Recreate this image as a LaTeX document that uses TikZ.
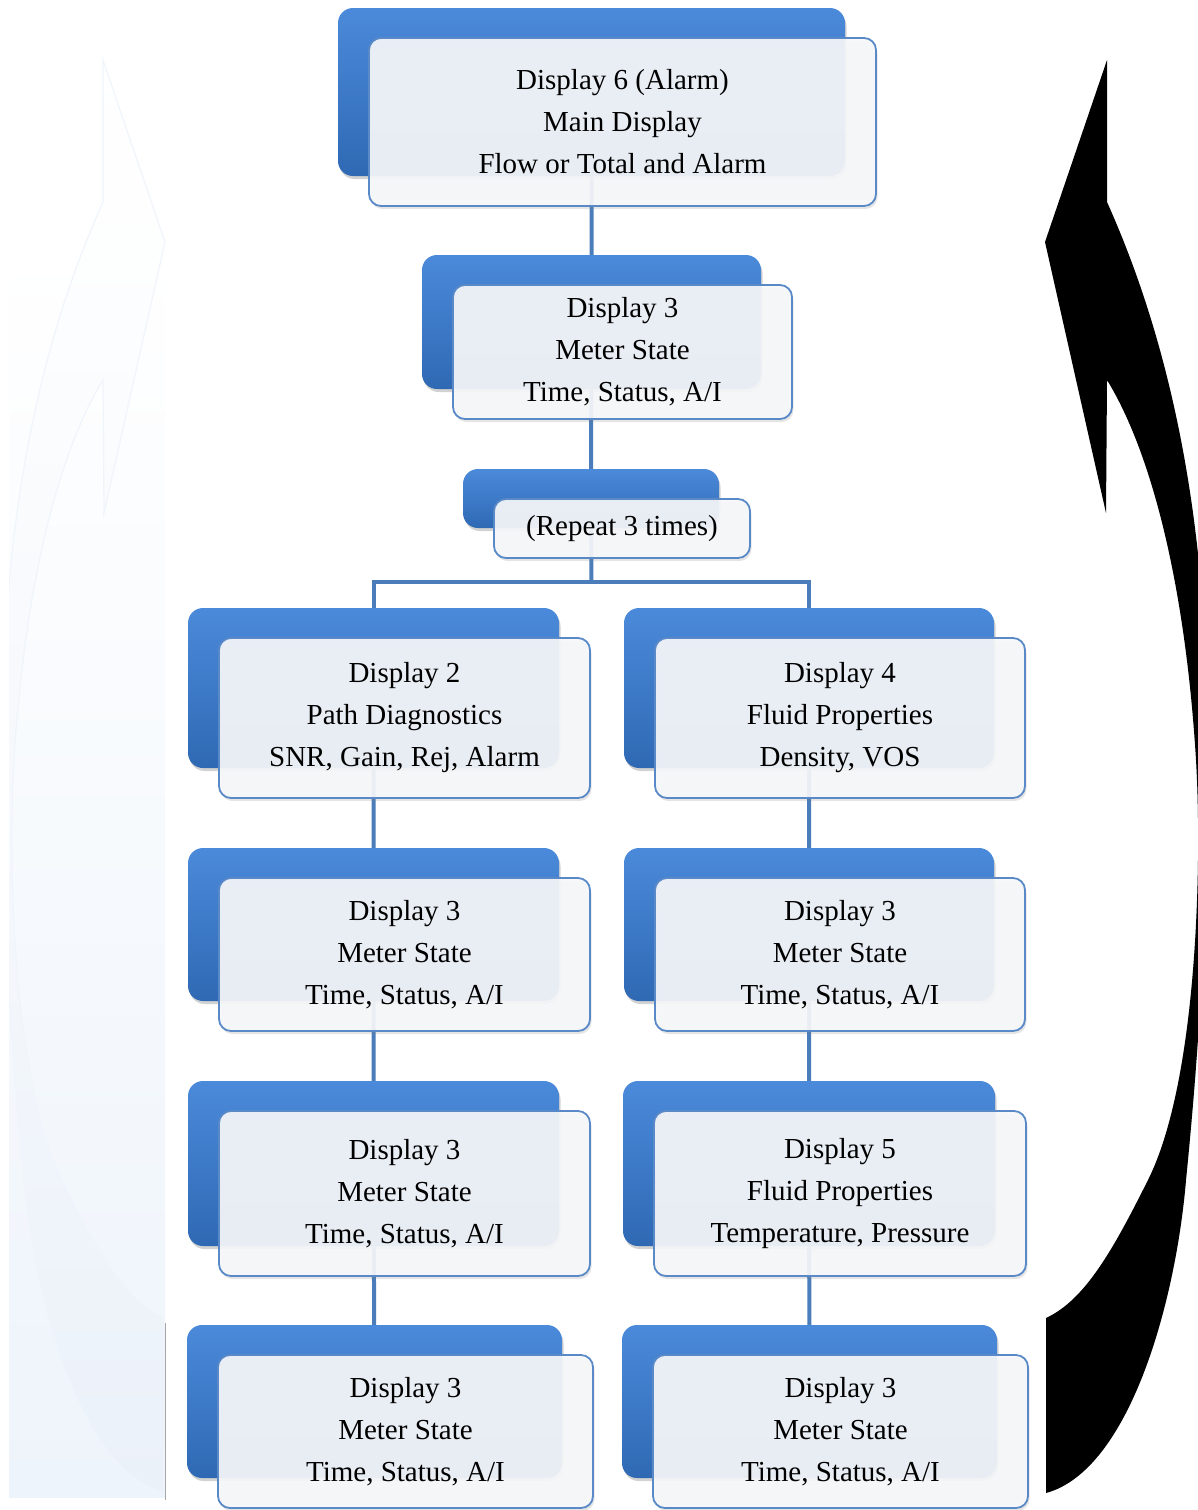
\documentclass[tikz,border=0pt]{standalone}
\usepackage{fontspec}
\setmainfont{Liberation Serif}
\usetikzlibrary{shadows}
\pgfdeclarelayer{bg}
\pgfsetlayers{bg,main}

\definecolor{backtop}{HTML}{4B8ADA}
\definecolor{backmid}{HTML}{3E7ECF}
\definecolor{backbot}{HTML}{2F69B4}
\definecolor{frontfill}{HTML}{F7F8FA}
\definecolor{frontedge}{HTML}{5A89C8}
\definecolor{linkblue}{HTML}{4A7DBA}
\definecolor{faintA}{HTML}{EEF4FB}
\definecolor{faintB}{HTML}{E9EFF8}
\definecolor{faintline}{HTML}{F0F5FC}
\definecolor{glow}{HTML}{D8E5F4}

\tikzset{
  backbox/.style={rounded corners=15pt, top color=backtop, middle color=backmid,
    bottom color=backbot, draw=none, inner sep=0pt,
    drop shadow={shadow xshift=1.5pt, shadow yshift=-3pt, opacity=0.35}},
  frontbox/.style={rounded corners=12pt, fill=frontfill, fill opacity=0.92,
    text opacity=1, draw=frontedge, line width=1.8pt, align=center, inner sep=0pt,
    font=\fontsize{29}{42}\selectfont,
    drop shadow={shadow xshift=1.5pt, shadow yshift=-3pt, opacity=0.2}},
  link/.style={draw=linkblue, line width=4pt},
  arrowshape/.style={insert path={(1107,60) -- (1045,242) -- (1106,513) -- (1107,380)
    .. controls (1150,450) and (1185,580) .. (1196,760)
    .. controls (1202,860) and (1198,1080) .. (1148,1180)
    .. controls (1113,1250) and (1085,1300) .. (1046,1318)
    -- (1046,1493)
    .. controls (1130,1470) and (1176,1300) .. (1186,1180)
    .. controls (1198,1060) and (1210,900) .. (1207,700)
    .. controls (1203,480) and (1160,320) .. (1107,202) -- cycle}},
}

\newcommand\pairbox[6]{%
  \node[backbox, minimum width=#4pt, minimum height=#5pt] (#1b) at (#2-31,#3-30) {};
  \node[frontbox, minimum width=#4pt, minimum height=#5pt] (#1) at (#2,#3) {#6};
}

\begin{document}
\begin{tikzpicture}[x=1pt, y=-1pt]
\useasboundingbox (0,0) rectangle (1198,1510);

% boxes
\pairbox{top}{622.5}{122}{507}{168}{Display 6 (Alarm)\\Main Display\\Flow or Total and Alarm}
\pairbox{dthree}{622.5}{352}{339}{134}{Display 3\\Meter State\\Time, Status, A/I}
\pairbox{rep}{622}{528.5}{256}{59}{(Repeat 3 times)}
\pairbox{Lone}{404.5}{718}{371}{160}{Display 2\\Path Diagnostics\\SNR, Gain, Rej, Alarm}
\pairbox{Rone}{840}{718}{370}{160}{Display 4\\Fluid Properties\\Density, VOS}
\pairbox{Ltwo}{404.5}{954.5}{371}{153}{Display 3\\Meter State\\Time, Status, A/I}
\pairbox{Rtwo}{840}{954.5}{370}{153}{Display 3\\Meter State\\Time, Status, A/I}
\pairbox{Lthree}{404.5}{1193.5}{371}{165}{Display 3\\Meter State\\Time, Status, A/I}
\pairbox{Rthree}{840}{1193.5}{372}{165}{Display 5\\Fluid Properties\\Temperature, Pressure}
\pairbox{Lfour}{405.5}{1431.5}{375}{153}{Display 3\\Meter State\\Time, Status, A/I}
\pairbox{Rfour}{840.5}{1431.5}{375}{153}{Display 3\\Meter State\\Time, Status, A/I}

% right black curved arrow
\begin{scope}
  \clip (0,0) rectangle (1198,1510);
  \begin{scope}
    \clip (1000,760) rectangle (1198,1510);
    \path[arrowshape, fill=glow, xshift=2pt, yshift=-3pt];
  \end{scope}
  \path[arrowshape, fill=black];
\end{scope}

\begin{pgfonlayer}{bg}
  \fill[white] (0,0) rectangle (1198,1510);
  % faint mirrored arrow on the left
  \begin{scope}
    \clip (9,0) rectangle (165,1497);
    \fill[top color=white, bottom color=faintA] (9,240) rectangle (165,1497);
    \begin{scope}[xshift=1210pt, xscale=-1]
      \path[arrowshape, top color=white, bottom color=faintB, fill opacity=0.45,
            draw=faintline, line width=1.2pt];
    \end{scope}
  \end{scope}
  \draw[gray!70, line width=0.8pt] (165,1323) -- (165,1500);
  % connectors
  \coordinate (fork) at (591.5,582);
  \draw[link] (topb.center) -- (dthreeb.center) -- (repb.center) -- (fork);
  \draw[link] (Loneb.center) |- (fork) -| (Roneb.center);
  \draw[link] (Loneb.center) -- (Ltwob.center) -- (Lthreeb.center) -- (Lfourb.center);
  \draw[link] (Roneb.center) -- (Rtwob.center) -- (Rthreeb.center) -- (Rfourb.center);
\end{pgfonlayer}
\end{tikzpicture}
\end{document}
